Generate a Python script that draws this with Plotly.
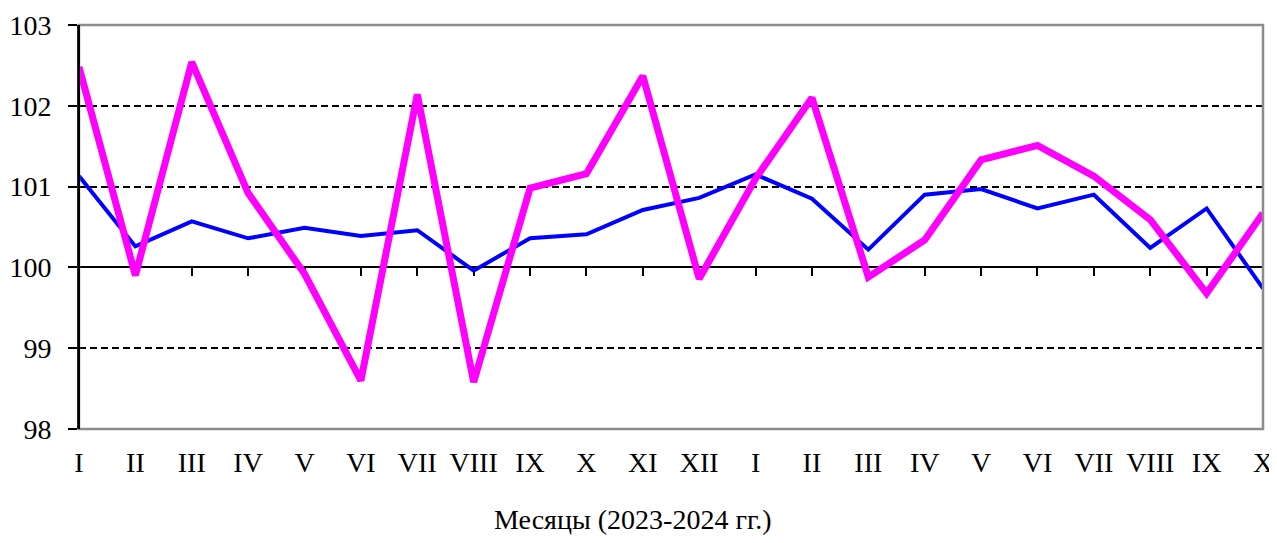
import plotly.graph_objects as go

months = ["I", "II", "III", "IV", "V", "VI", "VII", "VIII", "IX", "X", "XI", "XII",
          "I", "II", "III", "IV", "V", "VI", "VII", "VIII", "IX", "X"]
blue_values = [101.13, 100.26, 100.57, 100.36, 100.49, 100.39, 100.46, 99.96, 100.36, 100.41,
               100.71, 100.86, 101.15, 100.85, 100.22, 100.90, 100.97, 100.73, 100.90, 100.24,
               100.73, 99.74]
magenta_values = [102.48, 99.90, 102.54, 100.92, 99.92, 98.60, 102.14, 98.58, 100.98, 101.16,
                  102.37, 99.86, 101.10, 102.10, 99.88, 100.34, 101.33, 101.51, 101.13, 100.59,
                  99.68, 100.67]
y_ticks = [98, 99, 100, 101, 102, 103]
x_title = "Месяцы (2023-2024 гг.)"

idx = list(range(len(months)))
FONT = "Liberation Serif, Times New Roman, serif"

fig = go.Figure()
fig.add_trace(go.Scatter(x=idx, y=blue_values, mode="lines",
                         line=dict(color="#0000FF", width=4), showlegend=False))
fig.add_trace(go.Scatter(x=idx, y=magenta_values, mode="lines",
                         line=dict(color="#FF00FF", width=7), showlegend=False))

fig.update_layout(
    width=1261, height=527,
    margin=dict(l=71, r=6, t=17, b=106),
    paper_bgcolor="white", plot_bgcolor="white",
    font=dict(family=FONT, size=28, color="black"),
    xaxis=dict(range=[0, len(months) - 1], tickvals=idx, ticktext=months,
               showgrid=False, zeroline=False, showline=False, ticks="",
               ticklabelstandoff=14, automargin=False, ticklabeloverflow="allow"),
    xaxis2=dict(range=[0, len(months) - 1], overlaying="x", anchor="free", position=0.4,
                tickvals=idx, showticklabels=False, ticks="outside", ticklen=8,
                tickcolor="black", tickwidth=1.5, showline=True, linecolor="black",
                linewidth=1.5, showgrid=False, zeroline=False, layer="below traces",
                automargin=False),
    yaxis=dict(range=[98, 103], tickvals=y_ticks, showgrid=True, gridcolor="black",
               griddash="7px,4px", gridwidth=2, zeroline=False, showline=True,
               linecolor="black", linewidth=2, ticks="outside", ticklen=9,
               tickcolor="black", tickwidth=1.5, ticklabelstandoff=11, automargin=False),
    shapes=[dict(type="rect", xref="paper", yref="paper", x0=0, x1=1, y0=0, y1=1,
                 line=dict(color="#8c8c8c", width=2.5), layer="above")],
    annotations=[dict(text=x_title, xref="paper", yref="paper", x=0.468, y=-0.225,
                      xanchor="center", yanchor="middle", showarrow=False,
                      font=dict(size=28))],
)
# keep the secondary axis alive with an invisible trace
fig.add_trace(go.Scatter(x=idx, y=blue_values, xaxis="x2", mode="lines",
                         line=dict(width=0), opacity=0, hoverinfo="skip", showlegend=False))
# redraw left axis line above frame
fig.add_shape(type="line", xref="paper", yref="paper", x0=0, x1=0, y0=0, y1=1,
              line=dict(color="black", width=2), layer="above")

fig.write_html("out.html")
